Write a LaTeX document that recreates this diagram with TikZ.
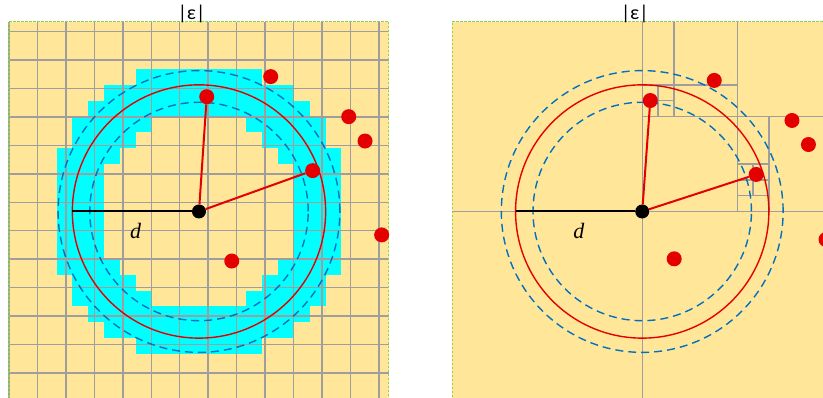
\documentclass[tikz,border=0pt]{standalone}
\usepackage{fontspec}
\setmainfont{Liberation Serif}
\newfontfamily\epsfont{Carlito}
\usetikzlibrary{positioning}
\definecolor{cellfill}{RGB}{255,230,153}
\definecolor{ringcyan}{RGB}{0,255,255}
\definecolor{gridgray}{RGB}{158,158,158}
\definecolor{edgegreen}{RGB}{146,208,80}
\definecolor{ptred}{RGB}{228,0,0}
\definecolor{bandblue}{RGB}{0,112,192}

\begin{document}
\begin{tikzpicture}[
  x=15.83pt, y=15.83pt,
  cellgrid/.style={draw=gridgray,line width=1.4pt},
  paneledge/.style={draw=edgegreen,line width=1.1pt,dash pattern=on 2.5pt off 1.5pt},
  ringline/.style={draw=ptred,line width=1.4pt},
  bandline/.style={draw=bandblue,line width=1.4pt,dash pattern=on 8pt off 5pt},
  reddot/.style={circle,fill=ptred,inner sep=0pt,minimum size=15pt},
  ctrdot/.style={circle,fill=black,inner sep=0pt,minimum size=14pt},
  ray/.style={draw=ptred,line width=2pt},
  dline/.style={draw=black,line width=2pt},
  epslabel/.style={font=\epsfont\fontsize{20}{22}\selectfont,inner sep=0pt},
  dlabel/.style={font=\fontsize{22}{24}\selectfont\itshape,inner sep=0pt},
]
  \useasboundingbox (-0.57,0.22) rectangle (51.42,25.36);

  % Left panel: uniform grid
  \fill[cellfill] (0,0) rectangle (24,24);
  \foreach \i in {0,...,23}
    \foreach \j in {0,...,23}{
      \pgfmathsetmacro\near{max(\i-12,11-\i)^2+max(\j-12,11-\j)^2}
      \pgfmathsetmacro\far{max(12-\i,\i-11)^2+max(12-\j,\j-11)^2}
      \pgfmathtruncatemacro\inring{and(\near<79.2,\far>47.6)}
      \ifnum\inring=1 \fill[ringcyan] (\i,\j) rectangle ++(1,1); \fi
    }
  \draw[cellgrid] (0,0) grid (24,24);
  \draw[paneledge] (0,0) rectangle (24,24);
  \node[epslabel] (epsa) at (11.53,24.5) {|ε|};

  \draw[bandline] (12,12) circle[radius=8.9];
  \draw[bandline] (12,12) circle[radius=6.9];
  \draw[ringline] (12,12) circle[radius=8];

  \node[ctrdot] (ca) at (12,12) {};
  \coordinate (ea) at (4,12);
  \node[reddot] (pa1) at (12.49,19.25) {};
  \node[reddot] (pa2) at (16.53,20.52) {};
  \node[reddot] (pa3) at (19.18,14.58) {};
  \node[reddot] (pa4) at (21.46,17.99) {};
  \node[reddot] (pa5) at (22.49,16.45) {};
  \node[reddot] (pa6) at (23.54,10.52) {};
  \node[reddot] (pa7) at (14.07,8.87) {};
  \draw[dline] (ca) -- (ea);
  \draw[ray] (ca) -- (pa1);
  \draw[ray] (ca) -- (pa3);
  \node[dlabel] (da) at (8,10.8) {d};

  % Right panel: adaptive subdivision
  \fill[cellfill] (28,0) rectangle (52,24);
  \foreach \a/\b in {{28,12}/{52,12},{40,0}/{40,24},
                     {46,12}/{46,24},{40,18}/{52,18},
                     {42,18}/{42,24},{40,20}/{46,20},
                     {41,18}/{41,20},{40,19}/{42,19},
                     {48,12}/{48,18},{46,15}/{48,15},
                     {46,14}/{48,14},{46,13}/{48,13},{47,13}/{47,15}}
    \draw[cellgrid] (\a) -- (\b);
  \draw[paneledge] (28,0) rectangle (52,24);
  \node[epslabel] (epsb) at (39.53,24.5) {|ε|};

  \draw[bandline] (40,12) circle[radius=8.9];
  \draw[bandline] (40,12) circle[radius=6.9];
  \draw[ringline] (40,12) circle[radius=8];

  \node[ctrdot] (cb) at (40,12) {};
  \coordinate (eb) at (32,12);
  \node[reddot] (pb1) at (40.51,19.01) {};
  \node[reddot] (pb2) at (44.55,20.28) {};
  \node[reddot] (pb3) at (47.2,14.34) {};
  \node[reddot] (pb4) at (49.46,17.75) {};
  \node[reddot] (pb5) at (50.5,16.23) {};
  \node[reddot] (pb6) at (51.61,10.23) {};
  \node[reddot] (pb7) at (42.02,9.01) {};
  \draw[dline] (cb) -- (eb);
  \draw[ray] (cb) -- (pb1);
  \draw[ray] (cb) -- (pb3);
  \node[dlabel] (db) at (36,10.8) {d};
\end{tikzpicture}
\end{document}
